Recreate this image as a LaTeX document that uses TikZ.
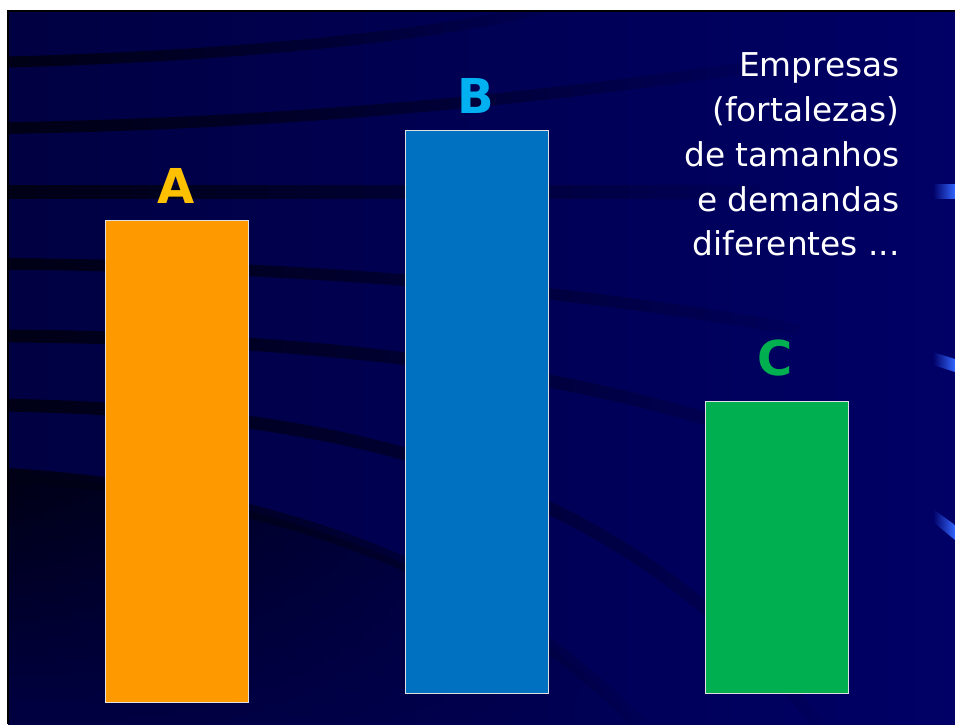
\documentclass[tikz,border=0pt]{standalone}
\usepackage{fontspec}
\setmainfont{DejaVu Sans}
\usetikzlibrary{fadings}

\definecolor{navyL}{RGB}{0,0,66}
\definecolor{navyR}{RGB}{0,0,102}
\definecolor{bandcol}{RGB}{0,0,22}
\definecolor{accent}{RGB}{51,102,255}
\definecolor{barA}{RGB}{255,153,0}
\definecolor{barB}{RGB}{0,112,192}
\definecolor{barC}{RGB}{0,176,80}
\definecolor{lblA}{RGB}{255,192,0}
\definecolor{lblB}{RGB}{0,176,240}
\definecolor{lblC}{RGB}{0,176,80}

\tikzfading[name=bandfade, left color=transparent!0, middle color=transparent!45, right color=transparent!95]

\tikzset{
  band/.style={bandcol, line width=10pt, path fading=bandfade},
  bar/.style={draw=white!88!black, line width=0.8pt},
  lbl/.style={anchor=base, inner sep=0pt, font=\fontsize{41}{41}\selectfont\bfseries},
  info/.style={anchor=base east, inner sep=0pt, text=white, font=\fontsize{28}{32}\selectfont}
}

\begin{document}
\begin{tikzpicture}[x=0.03cm, y=-0.03cm]

% 页面与背景
\fill[white] (0,0) rectangle (955,724);
\useasboundingbox (0,0) rectangle (955,724);
\shade[left color=navyL, right color=navyR] (8,11) rectangle (955,724);

% 暗色弧带
\begin{scope}
\clip (8,11) rectangle (955,724);
\shade[top color=bandcol, bottom color=navyL, path fading=bandfade] (8,475) .. controls (250,490) and (480,560) .. (640,724) -- (8,724) -- cycle;
\draw[band, line width=9.4pt] (8,62) .. controls (200,57) and (420,40) .. (545,8);
\draw[band] (8,128) .. controls (250,124) and (500,105) .. (760,66);
\draw[band, line width=12pt] (8,192) -- (760,192);
\draw[band] (8,264) .. controls (250,266) and (520,280) .. (800,330);
\draw[band, line width=11pt] (8,336) .. controls (250,338) and (550,355) .. (800,450);
\draw[band, line width=11pt] (8,405) .. controls (300,412) and (600,450) .. (820,724);
\draw[band, line width=12pt] (8,475) .. controls (250,490) and (480,560) .. (640,724);

% 右侧蓝色小条
\shade[left color=navyR, right color=accent] (933,184) -- (955,184) -- (955,198) -- (933,198) -- cycle;
\shade[left color=navyR, right color=accent] (933,352) -- (955,359) -- (955,372) -- (933,365) -- cycle;
\shade[left color=navyR, right color=accent] (933,509) -- (955,525) -- (955,540) -- (933,522) -- cycle;
\end{scope}

% 边框
\draw[black, line width=2pt] (8,724) -- (8,11) -- (955,11);

% 柱形 A, B, C
\coordinate (A1) at (105,220);
\coordinate (A2) at (248,702);
\coordinate (B1) at (405,130);
\coordinate (B2) at (548,693);
\coordinate (C1) at (705,401);
\coordinate (C2) at (848,693);
\filldraw[bar, fill=barA] (A1) rectangle (A2);
\filldraw[bar, fill=barB] (B1) rectangle (B2);
\filldraw[bar, fill=barC] (C1) rectangle (C2);

% 柱形标签
\node[lbl, text=lblA] (labA) at (176,203) {A};
\node[lbl, text=lblB] (labB) at (476,113) {B};
\node[lbl, text=lblC] (labC) at (775,375) {C};

% 右上文字
\node[info] (txt1) at (900,76) {Empresas};
\node[info] (txt2) at (900,121) {(fortalezas)};
\node[info] (txt3) at (900,166) {de tamanhos};
\node[info] (txt4) at (900,211) {e demandas};
\node[info] (txt5) at (900,255) {diferentes ...};

\end{tikzpicture}
\end{document}
